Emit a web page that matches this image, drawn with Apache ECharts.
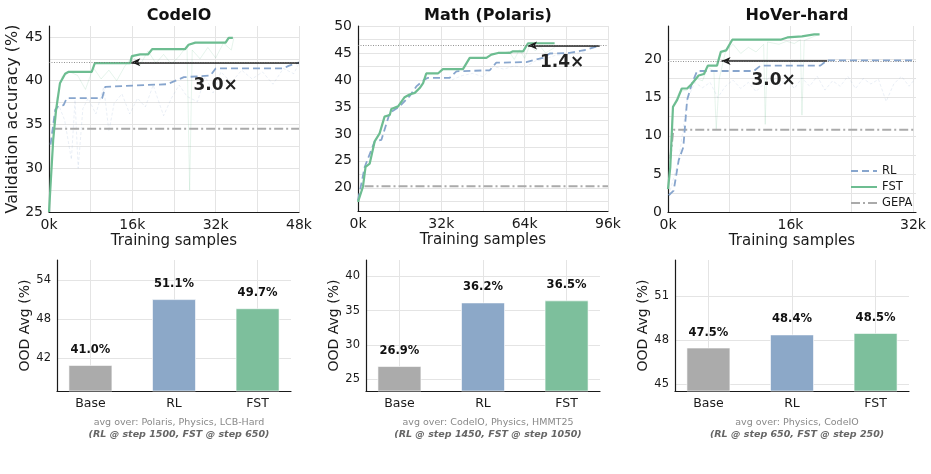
<!DOCTYPE html>
<html>
<head>
<meta charset="utf-8">
<script src="https://cdn.jsdelivr.net/npm/echarts@6/dist/echarts.min.js"></script>
<style>
  html, body { margin: 0; background: #fff; }
  #chart { width: 931px; height: 474px; }
</style>
</head>
<body>
<div id="chart"></div>
<script>
// CodeIO validation curves: [training samples, accuracy %]
const codeRL = [[300,32.7],[1200,36.7],[1800,37.1],[2800,37.2],[3400,38.0],[10200,38.0],[10800,39.3],[14300,39.4],[22700,39.6],[25900,40.4],[31000,40.6],[32000,41.4],[45000,41.4],[46000,41.7],[48000,42.1]];
const codeFST = [[0,25],[800,33.2],[1350,36.6],[2100,39.7],[3100,40.8],[3700,41.0],[8200,41.0],[8800,42.0],[15600,42.0],[15900,42.8],[17500,43.0],[19000,43.0],[19800,43.6],[26100,43.6],[26800,44.1],[28100,44.35],[33900,44.35],[34500,44.9],[35300,44.9]];
const codeGEPA = [[800,34.5],[48000,34.5]];
const codeFSTRaw = [[0,25],[800,33],[1500,38],[2500,40.5],[4000,41],[5500,40.6],[7000,39],[8500,41.5],[10000,40.2],[11500,41.2],[13000,40],[14500,41.6],[16000,42.8],[17500,41.8],[19000,43.4],[20500,42],[22000,43],[23500,41.9],[25000,42.8],[26500,44],[27000,27.5],[27500,43.5],[29000,42.5],[30500,43.8],[32000,42.6],[33500,44.3],[35000,43.5],[35500,44.9]];
const codeRLRaw = [[300,32.7],[1200,36.5],[2000,37],[3000,35.5],[4300,31],[5000,37.8],[5600,30],[6500,36.8],[7500,38],[9000,36.2],[10500,39.3],[11500,34.2],[12500,37.4],[14000,38.5],[15500,36.2],[17000,38],[18500,37],[20000,39.5],[22000,36],[23500,38],[25000,39.5],[26500,38.2],[28500,37.6],[30000,40.5],[31500,38.6],[33000,41],[35000,39.8],[37000,41.2],[39000,40.2],[41000,41],[43000,39.6],[45000,41.4],[47000,40.8],[48000,42]];

// Math (Polaris) validation curves
const mathRL = [[0,17.7],[2600,23.9],[6400,28.6],[9000,28.9],[12200,33.9],[16000,35.1],[19800,37.0],[22400,38.8],[25600,40.1],[26900,40.4],[35200,40.4],[37800,41.6],[50600,41.8],[53100,43.2],[64600,43.3],[71000,44.1],[73600,44.9],[81300,45.0],[87700,45.6],[92800,46.4]];
const mathFST = [[0,17.4],[1900,20.2],[2900,23.9],[4500,24.5],[6400,28.6],[8300,30.1],[10200,33.2],[12200,33.5],[12800,34.6],[15400,35.1],[17900,36.8],[19800,37.3],[21800,37.6],[23700,38.5],[25000,39.4],[26200,41.2],[30700,41.2],[32600,42.0],[40300,42.0],[42900,44.1],[49300,44.1],[51200,44.7],[53800,45.0],[58200,45.0],[59500,45.3],[63400,45.3],[65300,46.8],[75500,46.8]];
const mathGEPA = [[2500,20.3],[96000,20.3]];
const mathFSTRaw = [[56000,45.0],[58000,45.3],[60000,43.8],[62000,45.6],[64000,44.0],[66000,46.5],[68000,45.4],[70000,46.2],[72000,45.0],[75500,46.0]];
const mathRLRaw = [[36000,40.0],[40000,40.8],[44000,41.2],[48000,40.6],[52000,42.5],[56000,42.0],[60000,42.6],[64000,42.3],[68000,43.5],[72000,43.9],[76000,44.6],[82000,44.8],[88000,45.3]];

// HoVer-hard validation curves
const hoverRL = [[100,2.2],[740,2.8],[1400,6.8],[2000,8.5],[2500,14.7],[3100,16.8],[3800,18.5],[11200,18.5],[12100,19.2],[19900,19.2],[20800,19.9],[32400,19.9]];
const hoverFST = [[0,3.0],[300,5.9],[650,13.8],[1200,14.7],[1800,16.2],[2500,16.2],[3100,16.8],[4000,17.9],[4700,18.1],[5200,19.2],[6400,19.2],[6900,21.0],[7600,21.2],[8400,22.6],[14700,22.6],[15600,22.9],[17500,23.05],[19100,23.3],[19800,23.3]];
const hoverGEPA = [[300,7.0],[700,10.8],[32400,10.8]];
const hoverFSTRaw = [[0,3],[650,13.8],[1500,15.8],[2500,16],[3500,17.6],[4500,17.2],[5200,19],[6000,18.5],[6300,10.8],[6700,17.5],[7500,21],[8500,22],[9500,20.8],[10500,21.6],[11500,21],[12500,22],[12700,11.5],[13000,22.3],[14500,22],[15500,22.4],[16500,22.1],[17300,22.6],[17500,12.7],[17800,22.5],[19000,23],[19800,23.3]];
const hoverRLRaw = [[100,2.2],[1400,6.8],[2500,14.7],[3500,17],[4500,16.3],[5500,17],[6500,15],[7500,16.5],[8500,17.3],[9500,16.2],[10500,17],[11500,15.8],[12500,16.8],[13500,18],[14500,16.5],[15500,17.5],[16500,16.2],[17500,17.6],[18500,16.5],[19500,17.8],[20500,16],[21500,17.2],[22500,16.5],[23500,17.8],[24500,16.2],[25500,17.5],[26500,16.8],[27500,17.4],[28500,14.5],[29500,16.8],[30500,17.8],[31500,16.5],[32300,17.5]];

// speed-up annotations: level, arrow start x, arrow end x, label position
const codeSpeed = { y: 42.1, from: 48000, to: 15800, text: '3.0×', at: [32000, 39.5] };
const mathSpeed = { y: 46.4, from: 92800, to: 65300, text: '1.4×', at: [78400, 43.2] };
const hoverSpeed = { y: 19.8, from: 20800, to: 7000, text: '3.0×', at: [13800, 17.3] };

// axis ticks (grid lines) and tick labels
const codeXTicks = [0,8000,16000,24000,32000,40000,48000];
const codeXLabels = [0,16000,32000,48000];
const codeYTicks = [25,27.5,30,32.5,35,37.5,40,42.5,45];
const codeYLabels = [25,30,35,40,45];
const mathXTicks = [0,16000,32000,48000,64000,80000,96000];
const mathXLabels = [0,32000,64000,96000];
const mathYTicks = [17.5,20,22.5,25,27.5,30,32.5,35,37.5,40,42.5,45,47.5,50];
const mathYLabels = [20,25,30,35,40,45,50];
const hoverXTicks = [0,8000,16000,24000,32000];
const hoverXLabels = [0,16000,32000];
const hoverYTicks = [0,2.5,5,7.5,10,12.5,15,17.5,20,22.5];
const hoverYLabels = [0,5,10,15,20];

// OOD average bars
const barNames = ['Base', 'RL', 'FST'];
const codeBars = [41.0, 51.1, 49.7];
const mathBars = [26.9, 36.2, 36.5];
const hoverBars = [47.5, 48.4, 48.5];
const codeBarTicks = [42, 48, 54];
const mathBarTicks = [25, 30, 35, 40];
const hoverBarTicks = [45, 48, 51];

const C_RL = '#87a5cd', C_FST = '#6dbd91', C_GEPA = '#aaaaaa';
const BAR_COLORS = ['#ababab', '#8ca8c8', '#7dbf9c'];
const FONT = 'DejaVu Sans';
const INK = '#1a1a1a';

function valueAxis(grid, min, max, ticks, labels, fmt, size, extra) {
  return Object.assign({
    type: 'value', gridIndex: grid, min: min, max: max,
    axisLine: { show: true, onZero: false, lineStyle: { color: INK, width: 1.2 } },
    axisTick: { show: false, customValues: ticks },
    axisLabel: { customValues: labels, color: INK, fontSize: size, fontFamily: FONT, margin: 6, formatter: fmt },
    splitLine: { show: true, lineStyle: { color: '#e4e4e4', width: 1 } }
  }, extra || {});
}
const kFmt = v => Math.round(v / 1000) + 'k';

const grids = [
  { left: 49, top: 26, width: 250, height: 186 },
  { left: 358, top: 26, width: 250, height: 185 },
  { left: 668, top: 26, width: 248, height: 186 },
  { left: 57, top: 260, width: 234, height: 131 },
  { left: 366, top: 260, width: 234, height: 131 },
  { left: 675, top: 260, width: 234, height: 131 }
];

const xName = { name: 'Training samples', nameLocation: 'middle', nameGap: 22, nameTextStyle: { fontSize: 15, color: INK, fontFamily: FONT } };
const xAxes = [
  valueAxis(0, 0, 48000, codeXTicks, codeXLabels, kFmt, 14, xName),
  valueAxis(1, 0, 96000, mathXTicks, mathXLabels, kFmt, 14, xName),
  valueAxis(2, 0, 32400, hoverXTicks, hoverXLabels, kFmt, 14, xName)
];
const yAxes = [
  valueAxis(0, 25, 46.25, codeYTicks, codeYLabels, null, 14, { name: 'Validation accuracy (%)', nameLocation: 'middle', nameGap: 27, nameTextStyle: { fontSize: 16, color: INK, fontFamily: FONT } }),
  valueAxis(1, 15.7, 50, mathYTicks, mathYLabels, null, 14),
  valueAxis(2, 0, 24.4, hoverYTicks, hoverYLabels, null, 14)
];

const barLimits = [[37, 57.1, codeBarTicks], [23.25, 42.4, mathBarTicks], [44.52, 53.5, hoverBarTicks]];
barLimits.forEach((b, i) => {
  xAxes.push(valueAxis(3 + i, -0.4, 2.4, [0, 1, 2], [0, 1, 2], v => barNames[Math.round(v)], 12.5));
  yAxes.push(valueAxis(3 + i, b[0], b[1], b[2], b[2], null, 11.5, {
    name: 'OOD Avg (%)', nameLocation: 'middle', nameGap: 24,
    nameTextStyle: { fontSize: 14, color: INK, fontFamily: FONT }
  }));
});

function line(name, data, idx, color, type, width, z, extra) {
  return Object.assign({
    name: name, type: 'line', data: data, xAxisIndex: idx, yAxisIndex: idx,
    showSymbol: false, symbol: 'none', silent: true, z: z,
    lineStyle: { color: color, width: width, type: type },
    itemStyle: { color: color }
  }, extra || {});
}

// black arrow and "N×" label, attached to the RL curve
function arrowMarks(s) {
  return {
    markLine: {
      silent: true, animation: false, label: { show: false },
      symbol: ['none', 'arrow'], symbolSize: [6, 9],
      itemStyle: { color: INK },
      lineStyle: { color: INK, width: 1.5, type: 'solid' },
      emphasis: { disabled: true },
      data: [[{ coord: [s.from, s.y] }, { coord: [s.to, s.y] }]]
    },
    markPoint: {
      silent: true, symbol: 'circle', symbolSize: 1,
      itemStyle: { color: 'rgba(0,0,0,0)' },
      label: { show: true, position: 'inside', formatter: s.text, fontSize: 17, fontWeight: 'bold', color: '#222', fontFamily: FONT },
      data: [{ coord: s.at }]
    }
  };
}
// thin dotted target level across the panel, attached to the FST curve
function levelMark(s) {
  return {
    markLine: {
      silent: true, animation: false, label: { show: false }, symbol: 'none',
      emphasis: { disabled: true },
      lineStyle: { color: '#777', width: 0.8, type: [1, 1.5] },
      data: [{ yAxis: s.y }]
    }
  };
}

const series = [];
const panels = [
  [codeRL, codeFST, codeGEPA, codeRLRaw, codeFSTRaw, codeSpeed],
  [mathRL, mathFST, mathGEPA, mathRLRaw, mathFSTRaw, mathSpeed],
  [hoverRL, hoverFST, hoverGEPA, hoverRLRaw, hoverFSTRaw, hoverSpeed]
];
panels.forEach((p, i) => {
  series.push(line('RL raw', p[3], i, 'rgba(135,165,205,0.22)', [3, 2], 0.8, 1));
  series.push(line('FST raw', p[4], i, 'rgba(109,189,145,0.22)', 'solid', 0.8, 1));
  series.push(line('GEPA', p[2], i, C_GEPA, [9, 3, 2, 3], 2, 2));
  series.push(line('RL', p[0], i, C_RL, [7, 4], 1.8, 3, arrowMarks(p[5])));
  series.push(line('FST', p[1], i, C_FST, 'solid', 2.2, 4, levelMark(p[5])));
});
[codeBars, mathBars, hoverBars].forEach((vals, i) => {
  series.push({
    type: 'bar', xAxisIndex: 3 + i, yAxisIndex: 3 + i, barWidth: 44, silent: true,
    data: vals.map((v, k) => ({ value: [k, v], itemStyle: { color: BAR_COLORS[k], borderColor: 'rgba(255,255,255,0.6)', borderWidth: 1 } })),
    label: {
      show: true, position: 'top', distance: 9, fontSize: 11.5, fontWeight: 'bold', color: '#111', fontFamily: FONT,
      formatter: p => p.value[1].toFixed(1) + '%'
    }
  });
});

const titleStyle = { fontSize: 16, fontWeight: 'bold', color: '#111', fontFamily: FONT };
const noteStyle = { fontSize: 9.5, color: '#888', fontFamily: FONT, fontWeight: 'normal' };
const subStyle = { fontSize: 9.5, color: '#666', fontFamily: FONT, fontWeight: 'bold', fontStyle: 'italic' };
const titles = [
  { text: 'CodeIO', left: 174, top: 3, textAlign: 'center', textStyle: titleStyle },
  { text: 'Math (Polaris)', left: 483, top: 3, textAlign: 'center', textStyle: titleStyle },
  { text: 'HoVer-hard', left: 792, top: 3, textAlign: 'center', textStyle: titleStyle },
  { text: 'avg over: Polaris, Physics, LCB-Hard', subtext: '(RL @ step 1500, FST @ step 650)', left: 174, top: 413, textAlign: 'center', itemGap: 2, textStyle: noteStyle, subtextStyle: subStyle },
  { text: 'avg over: CodeIO, Physics, HMMT25', subtext: '(RL @ step 1450, FST @ step 1050)', left: 483, top: 413, textAlign: 'center', itemGap: 2, textStyle: noteStyle, subtextStyle: subStyle },
  { text: 'avg over: Physics, CodeIO', subtext: '(RL @ step 650, FST @ step 250)', left: 792, top: 413, textAlign: 'center', itemGap: 2, textStyle: noteStyle, subtextStyle: subStyle }
];

const chart = echarts.init(document.getElementById('chart'), null, { renderer: 'canvas' });
chart.setOption({
  animation: false,
  backgroundColor: '#fff',
  title: titles,
  grid: grids,
  xAxis: xAxes,
  yAxis: yAxes,
  legend: {
    data: ['RL', 'FST', 'GEPA'], orient: 'vertical', left: 845, top: 160,
    itemWidth: 26, itemHeight: 10, itemGap: 4, selectedMode: false,
    itemStyle: { opacity: 0 },
    textStyle: { fontSize: 11.5, color: INK, fontFamily: FONT }
  },
  series: series
});
</script>
</body>
</html>
